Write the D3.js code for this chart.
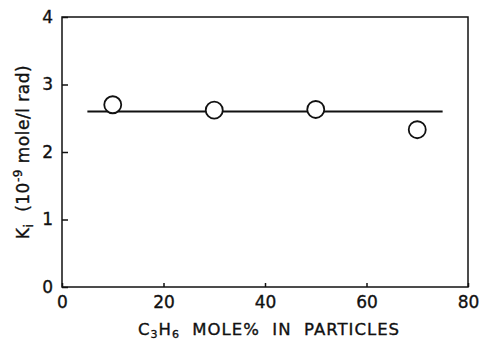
<!DOCTYPE html>
<html>
<head>
<meta charset="utf-8">
<script src="https://cdn.jsdelivr.net/npm/d3@7"></script>
<style>
body { margin: 0; background: #fff; }
text { font-family: "DejaVu Sans", "Liberation Sans", sans-serif; fill: #111; stroke: #111; stroke-width: 0.35px; }
</style>
</head>
<body>
<div id="chart"></div>
<script>
// measured points
var molePct = [10, 30, 50, 70];
var kiValues = [2.70, 2.62, 2.63, 2.33];
// fitted horizontal line
var fitX = [5, 75];
var fitY = [2.60, 2.60];
var xTicks = [0, 20, 40, 60, 80];
var yTicks = [0, 1, 2, 3, 4];

var width = 479, height = 342;
var margin = {top: 17, right: 11, bottom: 55, left: 62};
var w = width - margin.left - margin.right;
var h = height - margin.top - margin.bottom;

var svg = d3.select("#chart").append("svg")
    .attr("width", width)
    .attr("height", height);

var g = svg.append("g")
    .attr("transform", "translate(" + margin.left + "," + margin.top + ")");

var x = d3.scaleLinear().domain([0, 80]).range([0, w]);
var y = d3.scaleLinear().domain([0, 4]).range([h, 0]);

// frame
g.append("rect")
    .attr("width", w).attr("height", h)
    .attr("fill", "none").attr("stroke", "#111").attr("stroke-width", 1.5);

// y axis, ticks pointing inwards
var yAxis = g.append("g")
    .call(d3.axisLeft(y).tickValues(yTicks).tickSize(-6).tickPadding(9).tickFormat(d3.format("d")));
yAxis.select(".domain").remove();
yAxis.selectAll("line").attr("stroke", "#111").attr("stroke-width", 1.5);
yAxis.selectAll("text").style("font-size", "17px");

// x axis
var xAxis = g.append("g")
    .attr("transform", "translate(0," + h + ")")
    .call(d3.axisBottom(x).tickValues(xTicks).tickSize(-4).tickPadding(9).tickFormat(d3.format("d")));
xAxis.select(".domain").remove();
xAxis.selectAll("line").attr("stroke", "#111").attr("stroke-width", 1.5);
xAxis.selectAll("text").style("font-size", "17px");

// fit line
var line = d3.line()
    .x(function(d, i){ return x(d); })
    .y(function(d, i){ return y(fitY[i]); });
g.append("path")
    .datum(fitX)
    .attr("d", line)
    .attr("fill", "none").attr("stroke", "#111").attr("stroke-width", 2);

// points
g.selectAll("circle.pt")
    .data(molePct)
    .enter()
    .append("circle")
    .attr("class", "pt")
    .attr("cx", function(d){ return x(d); })
    .attr("cy", function(d, i){ return y(kiValues[i]); })
    .attr("r", 8.5)
    .attr("fill", "#fff").attr("stroke", "#111").attr("stroke-width", 1.8);

// x label
var xl = svg.append("text")
    .attr("x", 269).attr("y", 335)
    .attr("text-anchor", "middle")
    .attr("xml:space", "preserve")
    .style("white-space", "pre")
    .style("font-size", "16.5px")
    .style("letter-spacing", "1px");
xl.append("tspan").text("C");
xl.append("tspan").attr("dy", 3).style("font-size", "11px").text("3");
xl.append("tspan").attr("dy", -3).text("H");
xl.append("tspan").attr("dy", 3).style("font-size", "11px").text("6");
xl.append("tspan").attr("dy", -3).text("  MOLE%  IN  PARTICLES");

// y label
var yl = svg.append("text")
    .attr("transform", "translate(29,152) rotate(-90)")
    .attr("text-anchor", "middle")
    .attr("xml:space", "preserve")
    .style("white-space", "pre")
    .style("font-size", "17px")
    .style("letter-spacing", "0.5px");
yl.append("tspan").text("K");
yl.append("tspan").attr("dy", 4).style("font-size", "12px").text("i");
yl.append("tspan").attr("dy", -4).text("  (10");
yl.append("tspan").attr("dy", -7).style("font-size", "12px").text("-9");
yl.append("tspan").attr("dy", 7).text(" mole/l rad)");
</script>
</body>
</html>
